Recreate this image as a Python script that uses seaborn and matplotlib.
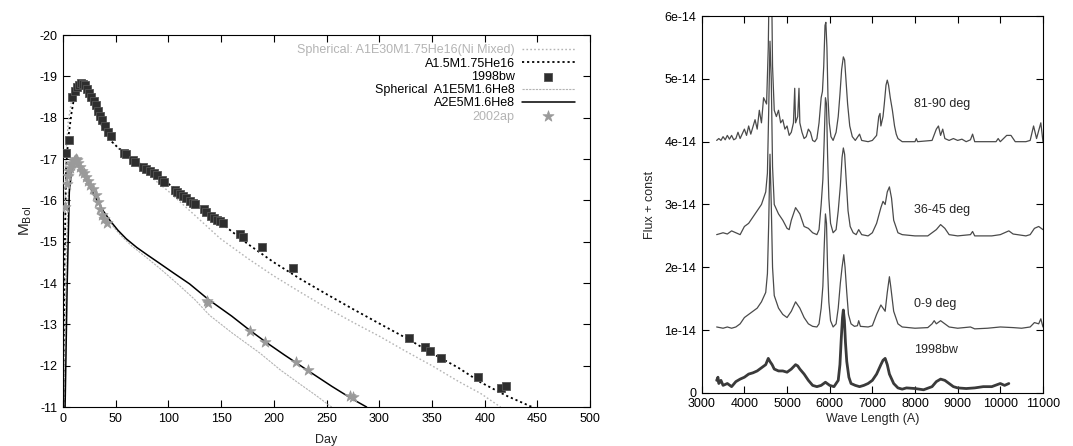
import matplotlib
matplotlib.use("Agg")
from matplotlib import pyplot as plt
import pandas as pd
import seaborn as sns

# ---- light curves (left panel) ----
bw_day = [2.5, 5.5, 9, 11, 13, 15, 17, 19, 21, 23, 25, 27, 29, 31, 33, 35, 37, 40, 43, 46,
          58, 60, 66, 68, 76, 79, 83, 86, 89, 94, 96, 106, 108, 111, 114, 117, 120, 123, 125,
          134, 136, 140, 143, 146, 149, 152, 168, 171, 189, 218, 328, 343, 348, 359, 394, 415, 420]
bw_mag = [-17.15, -17.45, -18.5, -18.65, -18.75, -18.8, -18.83, -18.82, -18.78, -18.7, -18.6,
          -18.5, -18.4, -18.3, -18.15, -18.05, -17.95, -17.8, -17.65, -17.55,
          -17.15, -17.12, -16.97, -16.93, -16.8, -16.77, -16.7, -16.66, -16.62, -16.5, -16.45,
          -16.25, -16.2, -16.15, -16.1, -16.05, -15.98, -15.93, -15.9, -15.78, -15.72, -15.62,
          -15.57, -15.53, -15.49, -15.45, -15.18, -15.12, -14.88, -14.37, -12.68, -12.45,
          -12.35, -12.19, -11.72, -11.46, -11.52]

ap_day = [2, 4, 5, 6, 7, 8, 9, 10, 11, 12, 13, 14, 16, 18, 20, 22, 24, 26, 28, 31, 33, 35, 37,
          39, 42, 137, 138, 177, 192, 221, 232, 272, 275]
ap_mag = [-15.85, -16.4, -16.6, -16.7, -16.78, -16.85, -16.9, -16.95, -16.98, -17.0, -16.97,
          -16.9, -16.8, -16.72, -16.65, -16.57, -16.48, -16.38, -16.28, -16.12, -15.95, -15.8,
          -15.65, -15.55, -15.46, -13.56, -13.52, -12.84, -12.57, -12.08, -11.9, -11.26, -11.24]

# model A1.5M1.75He16
m1_day = [0.5, 1.5, 3, 5, 8, 11, 14, 18, 22, 26, 30, 35, 40, 45, 52, 60, 75, 100, 125, 150,
          175, 200, 225, 250, 275, 300, 329, 350, 375, 396, 420, 445]
m1_mag = [-11.0, -14.5, -16.8, -17.5, -18.1, -18.55, -18.78, -18.85, -18.7, -18.45, -18.2,
          -17.9, -17.65, -17.45, -17.28, -17.13, -16.85, -16.4, -15.95, -15.45, -14.95, -14.5,
          -14.1, -13.73, -13.37, -13.02, -12.62, -12.3, -11.95, -11.6, -11.28, -11.0]

# model Spherical A1E30M1.75He16 (Ni mixed)
m2_day = [0.5, 1.5, 3, 5, 8, 11, 15, 19, 23, 27, 31, 36, 42, 50, 60, 75, 89, 100, 125, 149,
          175, 200, 225, 250, 275, 301, 325, 350, 375, 396, 415]
m2_mag = [-11.0, -15.0, -17.2, -17.9, -18.4, -18.7, -18.85, -18.8, -18.62, -18.38, -18.12,
          -17.85, -17.58, -17.32, -17.05, -16.75, -16.45, -16.22, -15.64, -15.08, -14.6,
          -14.17, -13.78, -13.4, -13.05, -12.7, -12.35, -12.0, -11.62, -11.33, -11.0]

# model A2E5M1.6He8
m3_day = [2, 4, 6, 8, 11, 13, 16, 20, 25, 30, 38, 45, 52, 60, 70, 80, 92, 105, 120, 138,
          160, 177, 193, 210, 233, 255, 274, 288]
m3_mag = [-11.0, -14.0, -16.2, -16.7, -16.9, -16.95, -16.8, -16.6, -16.35, -16.1, -15.75,
          -15.5, -15.28, -15.07, -14.86, -14.68, -14.47, -14.24, -13.98, -13.6, -13.2,
          -12.86, -12.56, -12.26, -11.87, -11.5, -11.2, -11.0]

# model Spherical A1E5M1.6He8
m4_day = [1, 3, 5, 8, 11, 14, 18, 22, 27, 33, 40, 48, 56, 65, 80, 92, 110, 125, 139, 160,
          187, 206, 225, 240, 252, 255]
m4_mag = [-11.0, -14.5, -16.2, -16.75, -16.95, -16.95, -16.75, -16.55, -16.3, -16.0, -15.68,
          -15.35, -15.12, -14.9, -14.6, -14.35, -13.95, -13.6, -13.22, -12.8, -12.3, -11.9,
          -11.55, -11.28, -11.05, -11.0]

# ---- spectra (right panel), flux in units of 1e-14 ----
s90_wl = [3350, 3400, 3450, 3500, 3550, 3600, 3650, 3700, 3750, 3800, 3850, 3900, 4000, 4050,
          4100, 4150, 4250, 4300, 4350, 4400, 4450, 4520, 4560, 4590, 4630, 4660, 4700, 4750,
          4800, 4850, 4900, 4950, 5000, 5050, 5100, 5150, 5180, 5200, 5250, 5280, 5300, 5350,
          5400, 5450, 5500, 5550, 5600, 5650, 5700, 5750, 5800, 5830, 5860, 5890, 5910, 5935,
          5960, 5990, 6030, 6080, 6150, 6200, 6240, 6280, 6320, 6350, 6380, 6420, 6470, 6530,
          6600, 6700, 6750, 6900, 7000, 7100, 7150, 7180, 7200, 7250, 7280, 7320, 7350, 7380,
          7420, 7470, 7520, 7560, 7600, 7700, 8000, 8030, 8060, 8400, 8500, 8550, 8600, 8650,
          8700, 8800, 8900, 9000, 9100, 9200, 9300, 9350, 9400, 9600, 9900, 9950, 10000, 10150,
          10250, 10350, 10600, 10700, 10780, 10850, 10950, 11000]
s90_fx = [4.02, 4.05, 4.02, 4.08, 4.03, 4.1, 4.04, 4.1, 4.03, 4.05, 4.15, 4.05, 4.2, 4.1,
          4.25, 4.12, 4.35, 4.2, 4.5, 4.3, 4.7, 4.6, 5.5, 7.0, 7.0, 5.2, 4.5, 4.4,
          4.5, 4.3, 4.35, 4.2, 4.25, 4.1, 4.15, 4.3, 4.85, 4.3, 4.4, 4.85, 4.3, 4.15,
          4.05, 4.08, 4.2, 4.15, 4.02, 4.0, 4.05, 4.3, 4.7, 4.8, 5.2, 5.85, 5.9, 5.5,
          4.7, 4.3, 4.08, 4.02, 4.15, 4.4, 4.75, 5.15, 5.35, 5.3, 5.0, 4.6, 4.25, 4.08,
          4.02, 4.12, 4.02, 4.0, 4.02, 4.1, 4.4, 4.45, 4.25, 4.4, 4.6, 4.9, 4.98, 4.9,
          4.7, 4.5, 4.25, 4.12, 4.05, 4.0, 4.0, 4.05, 4.0, 4.02, 4.2, 4.25, 4.1, 4.2,
          4.05, 4.02, 4.05, 4.02, 4.04, 4.0, 4.03, 4.12, 4.0, 4.0, 4.0, 4.05, 4.0, 4.1,
          4.1, 4.0, 4.0, 4.02, 4.25, 4.05, 4.3, 4.0]

s45_wl = [3350, 3500, 3600, 3700, 3800, 3900, 4000, 4100, 4200, 4300, 4400, 4500, 4540, 4570,
          4600, 4630, 4660, 4700, 4800, 4900, 5000, 5050, 5100, 5200, 5250, 5300, 5350, 5400,
          5500, 5600, 5700, 5750, 5800, 5840, 5870, 5900, 5925, 5950, 5980, 6020, 6080, 6150,
          6200, 6250, 6290, 6320, 6350, 6390, 6430, 6480, 6550, 6620, 6680, 6750, 6900, 7000,
          7100, 7200, 7250, 7300, 7350, 7400, 7450, 7500, 7600, 7700, 8000, 8300, 8500, 8600,
          8700, 8800, 9000, 9300, 9350, 9400, 9800, 10000, 10200, 10300, 10600, 10700, 10800,
          10900, 11000]
s45_fx = [2.52, 2.55, 2.53, 2.58, 2.55, 2.52, 2.65, 2.7, 2.8, 2.9, 3.0, 3.2, 3.5, 4.5,
          5.6, 5.0, 3.6, 3.0, 2.85, 2.75, 2.62, 2.6, 2.75, 2.95, 2.9, 2.85, 2.75, 2.65,
          2.62, 2.55, 2.52, 2.6, 3.0, 3.4, 4.0, 4.7, 4.6, 3.8, 3.1, 2.7, 2.55, 2.6,
          2.9, 3.3, 3.75, 3.9, 3.8, 3.35, 2.9, 2.65, 2.55, 2.52, 2.6, 2.52, 2.5, 2.55,
          2.7, 2.95, 3.05, 3.0, 3.2, 3.28, 3.1, 2.75, 2.55, 2.52, 2.5, 2.5, 2.6, 2.68,
          2.62, 2.52, 2.5, 2.52, 2.57, 2.5, 2.5, 2.52, 2.58, 2.53, 2.5, 2.52, 2.62,
          2.65, 2.6]

s9_wl = [3350, 3500, 3600, 3700, 3800, 3900, 4000, 4100, 4200, 4300, 4400, 4500, 4540, 4570,
         4600, 4630, 4660, 4700, 4800, 4900, 5000, 5100, 5200, 5250, 5300, 5400, 5500, 5600,
         5700, 5750, 5800, 5840, 5870, 5900, 5925, 5950, 5980, 6020, 6080, 6150, 6200, 6250,
         6290, 6330, 6360, 6400, 6440, 6500, 6580, 6650, 6680, 6720, 6900, 7000, 7100, 7200,
         7250, 7300, 7350, 7400, 7430, 7500, 7600, 7700, 8000, 8300, 8400, 8450, 8500, 8600,
         8700, 8800, 9000, 9300, 9400, 9700, 10000, 10300, 10500, 10700, 10800, 10900, 10950,
         11000]
s9_fx = [1.05, 1.03, 1.05, 1.03, 1.05, 1.1, 1.2, 1.25, 1.3, 1.35, 1.45, 1.6, 1.9, 2.7,
         3.8, 3.0, 2.0, 1.55, 1.35, 1.25, 1.2, 1.3, 1.45, 1.4, 1.35, 1.2, 1.1, 1.06,
         1.05, 1.1, 1.35, 1.7, 2.3, 2.85, 2.7, 2.0, 1.45, 1.15, 1.05, 1.1, 1.35, 1.75,
         2.0, 2.2, 2.0, 1.6, 1.25, 1.1, 1.06, 1.07, 1.15, 1.06, 1.05, 1.07, 1.25, 1.4,
         1.35, 1.3, 1.6, 1.85, 1.7, 1.3, 1.1, 1.05, 1.03, 1.04, 1.1, 1.15, 1.1, 1.15,
         1.1, 1.05, 1.03, 1.05, 1.02, 1.03, 1.05, 1.04, 1.03, 1.05, 1.12, 1.1, 1.18,
         1.05]

sbw_wl = [3350, 3380, 3400, 3450, 3500, 3600, 3700, 3800, 3900, 4000, 4100, 4200, 4300, 4400,
          4500, 4560, 4600, 4650, 4700, 4800, 4900, 5000, 5100, 5200, 5250, 5300, 5400, 5500,
          5600, 5700, 5800, 5900, 6000, 6100, 6200, 6240, 6270, 6300, 6320, 6345, 6370, 6400,
          6450, 6500, 6600, 6700, 6800, 6900, 7000, 7100, 7200, 7250, 7300, 7350, 7400, 7500,
          7600, 7700, 7800, 8000, 8200, 8400, 8500, 8600, 8700, 8800, 8900, 9000, 9200, 9400,
          9600, 9800, 10000, 10100, 10200]
sbw_fx = [0.2, 0.25, 0.15, 0.2, 0.12, 0.15, 0.1, 0.18, 0.22, 0.25, 0.3, 0.32, 0.35, 0.4,
          0.45, 0.55, 0.5, 0.45, 0.38, 0.35, 0.35, 0.33, 0.38, 0.45, 0.43, 0.38, 0.3, 0.2,
          0.12, 0.1, 0.12, 0.17, 0.12, 0.1, 0.2, 0.45, 0.85, 1.2, 1.32, 1.15, 0.8, 0.5,
          0.25, 0.15, 0.12, 0.1, 0.12, 0.15, 0.2, 0.3, 0.45, 0.52, 0.55, 0.45, 0.3, 0.15,
          0.08, 0.06, 0.08, 0.07, 0.05, 0.1, 0.18, 0.22, 0.2, 0.15, 0.1, 0.08, 0.07, 0.08,
          0.1, 0.1, 0.15, 0.12, 0.15]

spec_labels = ["81-90 deg", "36-45 deg", "0-9 deg", "1998bw"]
spec_label_y = [4.6, 2.92, 1.42, 0.68]

sns.set_style("ticks")
plt.rcParams['font.family'] = ['Liberation Sans', 'DejaVu Sans']
plt.rcParams['axes.unicode_minus'] = False
plt.rcParams['font.size'] = 9

fig = plt.figure(figsize=(10.73, 4.46), dpi=100)
ax = fig.add_axes([0.0587, 0.0874, 0.4913, 0.8341])
ax2 = fig.add_axes([0.654, 0.119, 0.318, 0.845])

light = "#b4b4b4"
dark = "#2e2e2e"

sns.lineplot(x=m2_day, y=m2_mag, ax=ax, color=light, lw=1.0, ls=(0, (1.2, 1.6)),
             estimator=None, label="Spherical: A1E30M1.75He16(Ni Mixed)")
sns.lineplot(x=m1_day, y=m1_mag, ax=ax, color="black", lw=1.3, ls=(0, (1.2, 1.6)),
             estimator=None, label="A1.5M1.75He16")
sns.scatterplot(x=bw_day, y=bw_mag, ax=ax, color=dark, marker="s", s=30,
                edgecolor="#555555", linewidth=0.6, label="1998bw", zorder=3)
sns.lineplot(x=m4_day, y=m4_mag, ax=ax, color=light, lw=0.8, ls=(0, (2, 1)),
             estimator=None, label="Spherical  A1E5M1.6He8")
sns.lineplot(x=m3_day, y=m3_mag, ax=ax, color="black", lw=1.1,
             estimator=None, label="A2E5M1.6He8")
sns.scatterplot(x=ap_day, y=ap_mag, ax=ax, color="#9a9a9a", marker="*", s=70,
                edgecolor="#9a9a9a", linewidth=0.5, label="2002ap", zorder=3)

ax.set_xlim(0, 500)
ax.set_ylim(-11, -20)
ax.set_xticks(range(0, 501, 50))
ax.set_yticks(range(-20, -10))
ax.set_xlabel("Day", labelpad=7)
ax.set_ylabel("M$_{\\mathrm{Bol}}$", labelpad=4, fontsize=11)

leg = ax.legend(loc="upper right", bbox_to_anchor=(0.985, 0.995), frameon=False,
                markerfirst=False, handlelength=4.2, handletextpad=0.6,
                labelspacing=0.1, borderaxespad=0.2, fontsize=9)
for txt, col in zip(leg.get_texts(), [light, "black", "black", "black", "black", light]):
    txt.set_color(col)

for a in (ax, ax2):
    a.tick_params(direction="in", top=True, right=True, length=5, width=0.8,
                  labelsize=9, pad=4, colors="black")
    for sp in a.spines.values():
        sp.set_linewidth(0.8)
        sp.set_color("black")

spec_col = "#4a4a4a"
sns.lineplot(x=s90_wl, y=s90_fx, ax=ax2, color=spec_col, lw=0.9, estimator=None)
sns.lineplot(x=s45_wl, y=s45_fx, ax=ax2, color=spec_col, lw=0.9, estimator=None)
sns.lineplot(x=s9_wl, y=s9_fx, ax=ax2, color=spec_col, lw=0.9, estimator=None)
sns.lineplot(x=sbw_wl, y=sbw_fx, ax=ax2, color="#3a3a3a", lw=2.0, estimator=None)
for lab, yy in zip(spec_labels, spec_label_y):
    ax2.text(7970, yy, lab, fontsize=9, va="center", ha="left")

ax2.set_xlim(3000, 11000)
ax2.set_ylim(0, 6)
ax2.set_xticks(range(3000, 11001, 1000))
ax2.set_yticks(range(0, 7))
ax2.set_yticklabels(["0"] + ["%de-14" % i for i in range(1, 7)])
ax2.set_xlabel("Wave Length (A)", labelpad=2)
ax2.set_ylabel("Flux + const", labelpad=6)

fig.savefig("out.png", dpi=100)
